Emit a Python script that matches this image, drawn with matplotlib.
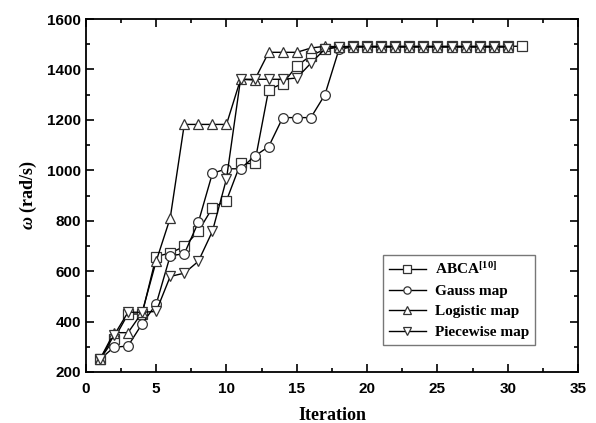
import numpy as np
import matplotlib.pyplot as plt
from matplotlib.ticker import MultipleLocator

plt.rcParams['mathtext.fontset'] = 'custom'
plt.rcParams['mathtext.rm'] = 'Liberation Serif:bold'
plt.rcParams['mathtext.bf'] = 'Liberation Serif:bold'
plt.rcParams['mathtext.it'] = 'Liberation Serif:italic:bold'

# iterations
iter_abca = list(range(1, 32))
iter_other = list(range(1, 31))

abca = [250, 330, 430, 430, 658, 672, 698, 758, 851, 880, 1027, 1027, 1320, 1344, 1414,
        1455, 1480, 1490] + [1492] * 13
gauss = [250, 298, 303, 391, 469, 661, 669, 794, 988, 1006, 1006, 1056, 1094, 1209, 1209,
         1209, 1300, 1480] + [1490] * 12
logistic = [250, 356, 356, 436, 639, 811, 1182, 1182, 1182, 1182, 1361, 1358, 1468, 1468, 1468,
            1485, 1492] + [1490] * 13
piecewise = [250, 345, 437, 437, 440, 579, 592, 639, 758, 966, 1361, 1361, 1361, 1361, 1366,
             1425, 1481] + [1490] * 13

fig = plt.figure(figsize=(5.96, 4.23), dpi=100)
ax = fig.add_axes([0.144, 0.1206, 0.826, 0.8344])

style = dict(color='black', lw=1.0, markersize=7, markerfacecolor='white',
             markeredgecolor='#333333', markeredgewidth=0.9)
ax.plot(iter_abca, abca, marker='s', label='ABCA$^{\\mathrm{[10]}}$', **style)
ax.plot(iter_other, gauss, marker='o', label='Gauss map', **style)
ax.plot(iter_other, logistic, marker='^', label='Logistic map', **style)
ax.plot(iter_other, piecewise, marker='v', label='Piecewise map', **style)

ax.set_xlim(0, 35)
ax.set_ylim(200, 1600)
ax.xaxis.set_major_locator(MultipleLocator(5))
ax.xaxis.set_minor_locator(MultipleLocator(2.5))
ax.yaxis.set_major_locator(MultipleLocator(200))
ax.yaxis.set_minor_locator(MultipleLocator(100))
ax.tick_params(which='both', direction='in', top=True, right=True, width=1.2)
ax.tick_params(which='major', length=6)
ax.tick_params(which='minor', length=3)
for s in ax.spines.values():
    s.set_linewidth(1.3)

for lab in ax.get_xticklabels() + ax.get_yticklabels():
    lab.set_family('Liberation Sans')
    lab.set_fontweight('bold')
    lab.set_fontsize(11)
ax.tick_params(axis='x', pad=7)

ax.set_xlabel('Iteration', family='Liberation Serif', fontweight='bold', fontsize=13, labelpad=8)
ax.set_ylabel('$\\omega$ (rad/s)', family='Liberation Serif', fontweight='bold',
              fontsize=13, labelpad=6)

leg = ax.legend(loc='lower right', bbox_to_anchor=(0.913, 0.076), borderaxespad=0,
                frameon=True, fancybox=False,
                edgecolor='#555555', markerscale=0.75, handlelength=2.4, borderpad=0.4,
                labelspacing=0.45, handletextpad=0.6,
                prop={'family': 'Liberation Serif', 'weight': 'bold', 'size': 11})
leg.get_frame().set_linewidth(1.0)

fig.savefig('out.png', dpi=100)
